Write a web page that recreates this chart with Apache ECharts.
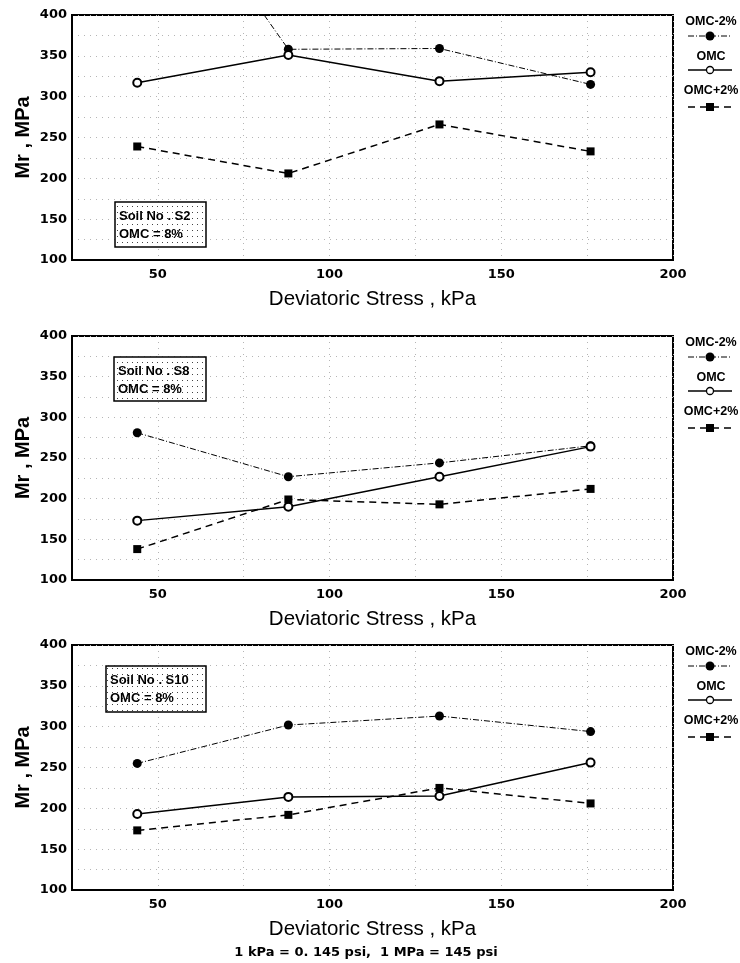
<!DOCTYPE html>
<html>
<head>
<meta charset="utf-8">
<script src="https://cdn.jsdelivr.net/npm/echarts@6/dist/echarts.min.js"></script>
<style>
html,body{margin:0;padding:0;background:#fff;}
#chart{width:740px;height:963px;}
</style>
</head>
<body>
<div id="chart"></div>
<script>
// ---- data ----
const stress = [44, 88, 132, 176];               // Deviatoric stress, kPa
const seriesNames = ['OMC-2%', 'OMC', 'OMC+2%'];
const soilNames = ['S2', 'S8', 'S10'];
const omcText = 'OMC = 8%';

const s2Minus  = [620, 358, 359, 315];
const s2Omc    = [317, 351, 319, 330];
const s2Plus   = [239, 206, 266, 233];

const s8Minus  = [281, 227, 244, 265];
const s8Omc    = [173, 190, 227, 264];
const s8Plus   = [138, 199, 193, 212];

const s10Minus = [255, 302, 313, 294];
const s10Omc   = [193, 214, 215, 256];
const s10Plus  = [173, 192, 225, 206];

const xTicks = [50, 100, 150, 200];
const yTicks = [100, 150, 200, 250, 300, 350, 400];
const xTitle = 'Deviatoric Stress , kPa';
const yTitle = 'Mr , MPa';
const footNote = '1 kPa = 0. 145 psi,  1 MPa = 145 psi';

// ---- layout ----
const panelTops = [15, 336, 645];
const panelHeights = [245, 244, 245];
const gridLeft = 72, gridRight = 67;
const boxes = [
  {x: 115, y: 202, w: 91, h: 45},
  {x: 114, y: 357, w: 92, h: 44},
  {x: 106, y: 666, w: 100, h: 46}
];
const panelData = [
  [s2Minus, s2Omc, s2Plus],
  [s8Minus, s8Omc, s8Plus],
  [s10Minus, s10Omc, s10Plus]
];

const styles = {
  'OMC-2%': {line: {color: '#000', width: 1, type: [6, 2, 1, 2]}, symbol: 'circle', size: 9,
             item: {color: '#000'}},
  'OMC':    {line: {color: '#000', width: 1.5, type: 'solid'}, symbol: 'emptyCircle', size: 8,
             item: {color: '#000', borderColor: '#000', borderWidth: 1.3}},
  'OMC+2%': {line: {color: '#000', width: 1.5, type: [7, 5]}, symbol: 'rect', size: 8,
             item: {color: '#000'}}
};

// dotted pattern for the boxes
const pat = document.createElement('canvas');
pat.width = 5; pat.height = 6;
const pctx = pat.getContext('2d');
pctx.fillStyle = '#fff'; pctx.fillRect(0, 0, 5, 6);
pctx.fillStyle = '#444'; pctx.fillRect(2, 2, 1, 1);

const grids = [], xAxes = [], yAxes = [], series = [], graphic = [];
const tickFont = 'DejaVu Sans';

panelTops.forEach((top, i) => {
  grids.push({left: gridLeft, right: gridRight, top: top, height: panelHeights[i],
    show: true, borderColor: '#000', borderWidth: 2, backgroundColor: 'transparent'});
  xAxes.push({
    gridIndex: i, type: 'value', min: 25, max: 200, interval: 25,
    axisLine: {show: true, lineStyle: {color: '#000', width: 2}},
    axisTick: {show: false},
    axisLabel: {margin: 8, color: '#000', fontFamily: tickFont, fontWeight: 'bold', fontSize: 13,
      formatter: v => xTicks.includes(v) ? String(v) : ''},
    splitLine: {show: true, lineStyle: {color: '#b5b5b5', width: 1, type: [1, 5]}},
    name: xTitle, nameLocation: 'middle', nameGap: 29, nameMoveOverlap: false,
    nameTextStyle: {color: '#000', fontFamily: 'Liberation Sans', fontSize: 20.5}
  });
  yAxes.push({
    gridIndex: i, type: 'value', min: 100, max: 400, interval: 25,
    axisLine: {show: true, lineStyle: {color: '#000', width: 2}},
    axisTick: {show: false},
    axisLabel: {margin: 5, color: '#000', fontFamily: tickFont, fontWeight: 'bold', fontSize: 13,
      formatter: v => yTicks.includes(v) ? String(v) : ''},
    splitLine: {show: true, lineStyle: {color: '#b5b5b5', width: 1, type: [1, 5]}},
    name: yTitle, nameLocation: 'middle', nameGap: 39, nameRotate: 90, nameMoveOverlap: false,
    nameTextStyle: {color: '#000', fontFamily: 'Liberation Sans', fontWeight: 'bold', fontSize: 20}
  });
  // draw order: OMC, OMC+2%, OMC-2%
  [1, 2, 0].forEach(k => {
    const nm = seriesNames[k];
    const st = styles[nm];
    series.push({
      name: nm, type: 'line', xAxisIndex: i, yAxisIndex: i, clip: true,
      data: stress.map((x, j) => [x, panelData[i][k][j]]),
      symbol: st.symbol, symbolSize: st.size, showAllSymbol: true,
      lineStyle: st.line, itemStyle: st.item,
      emphasis: {disabled: true}, animation: false, z: 3 + k
    });
  });

  // legend (drawn as graphics to place the label above the line)
  const lx1 = 688, lx2 = 732, lcx = 710, ltx = 711;
  const offs = [[7, 21], [42, 55], [76, 92]];
  seriesNames.forEach((nm, k) => {
    const st = styles[nm];
    const ty = top + offs[k][0], ly = top + offs[k][1];
    graphic.push({type: 'text', x: ltx, y: ty, style: {text: nm, fill: '#000',
      font: 'bold 12.5px "Liberation Sans", Arial',
      textAlign: 'center', textVerticalAlign: 'middle'}});
    const dash = Array.isArray(st.line.type) ? st.line.type : null;
    graphic.push({type: 'line', shape: {x1: lx1, y1: ly, x2: lx2, y2: ly},
      style: {stroke: '#000', lineWidth: st.line.width, lineDash: dash}});
    if (st.symbol === 'circle') {
      graphic.push({type: 'circle', shape: {cx: lcx, cy: ly, r: 4.5}, style: {fill: '#000'}});
    } else if (st.symbol === 'emptyCircle') {
      graphic.push({type: 'circle', shape: {cx: lcx, cy: ly, r: 3.5}, style: {fill: '#fff', stroke: '#000', lineWidth: 1.3}});
    } else {
      graphic.push({type: 'rect', shape: {x: lcx - 4, y: ly - 4, width: 8, height: 8}, style: {fill: '#000'}});
    }
  });

  // soil box
  const b = boxes[i];
  graphic.push({type: 'rect', shape: {x: b.x, y: b.y, width: b.w, height: b.h},
    style: {fill: {image: pat, repeat: 'repeat'}, stroke: '#000', lineWidth: 1.5}, z: 10});
  graphic.push({type: 'text', x: b.x + 4, y: b.y + 14, z: 11, style: {text: 'Soil No . ' + soilNames[i],
    fill: '#000', font: 'bold 13px "Liberation Sans", Arial', textVerticalAlign: 'middle'}});
  graphic.push({type: 'text', x: b.x + 4, y: b.y + 32, z: 11, style: {text: omcText,
    fill: '#000', font: 'bold 13px "Liberation Sans", Arial', textVerticalAlign: 'middle'}});
});

graphic.push({type: 'text', x: 366, y: 953, style: {text: footNote, fill: '#000',
  font: 'bold 13px "DejaVu Sans", Arial', textAlign: 'center', textVerticalAlign: 'middle'}});

const chart = echarts.init(document.getElementById('chart'), null, {renderer: 'canvas'});
chart.setOption({
  animation: false,
  backgroundColor: '#fff',
  grid: grids, xAxis: xAxes, yAxis: yAxes, series: series, graphic: graphic
});
</script>
</body>
</html>
